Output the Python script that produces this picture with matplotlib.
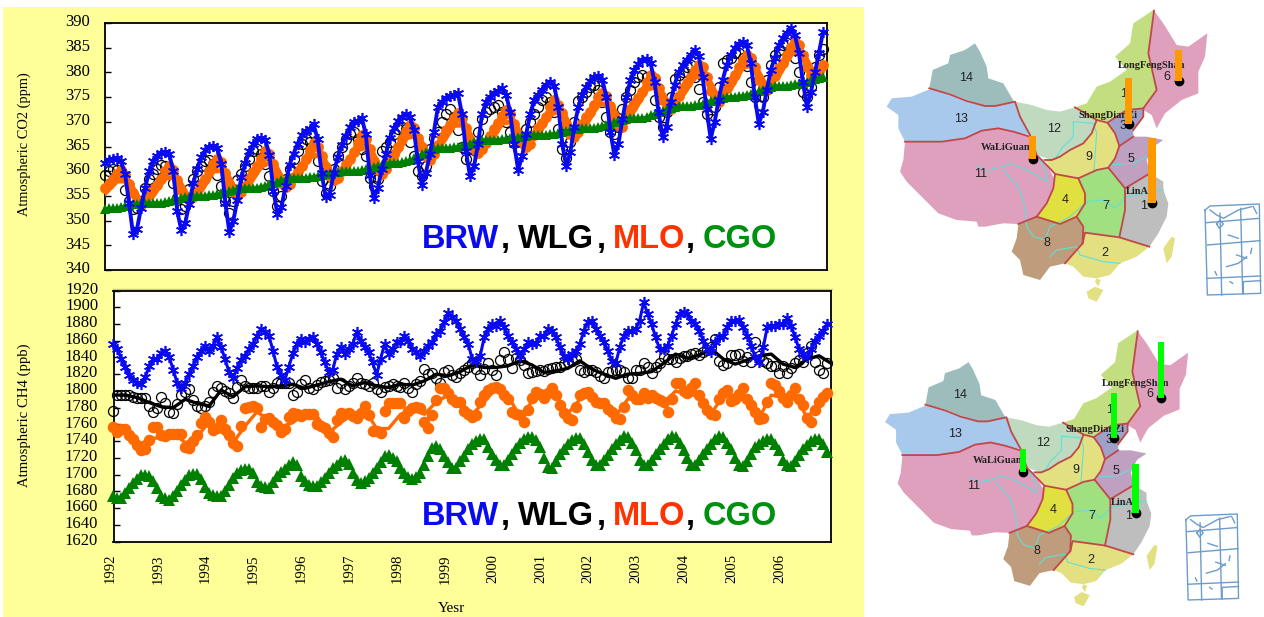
"""CO2 and CH4 time series for four stations next to two maps of China with site bars."""
import numpy as np
import matplotlib
matplotlib.use('Agg')
import matplotlib.pyplot as plt
from matplotlib.patches import Rectangle, Polygon
from matplotlib.transforms import ScaledTranslation

W, H = 1264, 617

years = list(range(1992, 2007))
co2_ticks = list(range(340, 395, 5))
ch4_ticks = list(range(1620, 1940, 20))
station_names = ['BRW', 'WLG', 'MLO', 'CGO']

co2_brw = [
    361.6, 362.3, 362.5, 362.6, 362.0, 359.5, 353.5, 347.2, 348.4, 352.6, 356.6, 360.0,
    362.1, 363.1, 363.7, 363.9, 363.5, 360.1, 352.0, 348.1, 349.5, 353.4, 357.6, 360.5,
    362.9, 364.2, 365.0, 365.2, 364.6, 361.5, 353.6, 347.7, 350.0, 354.2, 358.8, 361.6,
    364.0, 365.5, 366.5, 366.7, 366.3, 363.2, 356.0, 351.3, 352.7, 357.1, 361.3, 363.5,
    365.5, 367.3, 368.1, 368.6, 369.5, 366.5, 359.6, 354.8, 355.2, 359.6, 362.8, 365.3,
    367.2, 368.9, 370.0, 370.2, 370.8, 367.6, 359.2, 354.5, 356.5, 360.5, 363.4, 366.7,
    368.7, 370.2, 371.0, 371.6, 371.0, 368.4, 362.0, 357.3, 359.7, 363.4, 368.0, 373.0,
    374.0, 374.8, 375.2, 375.5, 375.8, 371.5, 364.0, 359.0, 361.0, 365.5, 371.5, 374.0,
    375.0, 375.8, 376.2, 376.8, 375.5, 372.0, 365.5, 360.3, 363.0, 367.5, 371.5, 374.5,
    375.5, 376.5, 377.5, 378.1, 377.3, 373.0, 365.5, 361.0, 363.8, 369.0, 373.0, 375.5,
    377.0, 378.3, 379.0, 379.3, 378.5, 375.0, 368.0, 363.2, 365.5, 370.5, 375.0, 378.5,
    380.5, 381.8, 382.6, 382.8, 382.0, 378.0, 372.0, 366.9, 369.0, 374.0, 377.5, 380.0,
    381.5, 382.6, 383.5, 384.5, 383.4, 379.0, 372.5, 366.5, 370.0, 374.5, 378.5, 381.5,
    383.5, 385.0, 385.8, 386.2, 385.5, 382.0, 375.0, 369.6, 372.0, 376.5, 380.5, 383.0,
    385.5, 387.0, 388.0, 388.9, 387.5, 384.0, 378.0, 373.0, 376.0, 380.0, 384.0, 388.2,
]
co2_wlg = [
    359.3, 360.0, 360.5, 360.3, 359.0, 356.2, 354.0, 352.4, 352.5, 354.0, 356.5, 358.5,
    359.5, 360.5, 361.3, 361.0, 359.5, 357.6, 354.5, 352.3, 353.0, 356.3, 358.5, 360.0,
    361.0, 362.0, 362.3, 361.5, 359.3, 357.0, 354.0, 351.5, 354.0, 358.3, 359.5, 361.0,
    362.5, 364.0, 364.5, 363.5, 361.5, 359.0, 356.0, 353.0, 355.0, 358.5, 360.5, 362.5,
    364.0, 365.5, 366.5, 366.0, 364.5, 362.0, 358.0, 355.5, 357.0, 360.5, 363.0, 365.0,
    366.5, 367.5, 368.0, 366.5, 364.5, 363.0, 358.7, 357.0, 358.5, 364.0, 365.0, 366.0,
    367.5, 368.5, 369.0, 368.5, 366.0, 363.0, 360.0, 359.0, 361.0, 364.5, 366.7, 368.0,
    370.0, 371.5, 372.5, 371.0, 368.4, 365.0, 362.4, 362.5, 365.0, 368.0, 370.5, 372.0,
    372.5, 373.0, 373.5, 372.0, 370.0, 368.0, 365.7, 364.5, 366.0, 368.5, 370.0, 371.5,
    373.0, 374.5, 375.0, 374.0, 372.0, 368.5, 364.5, 362.7, 366.0, 370.0, 374.3, 375.0,
    376.0, 377.0, 377.5, 376.5, 374.0, 371.0, 368.0, 367.5, 369.0, 372.5, 375.0, 376.5,
    378.0, 379.0, 379.5, 379.0, 377.9, 374.5, 371.0, 369.0, 372.0, 375.0, 378.7, 379.5,
    380.0, 381.0, 381.5, 379.0, 376.6, 374.0, 371.5, 370.5, 373.0, 377.0, 381.9, 382.5,
    383.0, 384.0, 384.0, 383.0, 381.2, 378.0, 375.0, 373.5, 375.0, 378.5, 381.5, 383.5,
    384.5, 385.5, 386.0, 385.0, 383.0, 380.0, 376.0, 375.0, 377.0, 381.0, 383.5, 384.7,
]
co2_mlo = [
    356.5, 357.5, 358.5, 359.5, 360.2, 359.3, 357.5, 355.5, 354.0, 353.2, 353.8, 355.2,
    356.4, 357.3, 358.5, 360.0, 361.0, 360.2, 358.3, 356.2, 354.7, 354.1, 354.8, 356.0,
    357.5, 358.5, 360.0, 361.5, 362.4, 361.8, 359.7, 357.5, 355.9, 355.0, 355.8, 357.0,
    358.7, 359.8, 361.0, 362.5, 364.0, 363.5, 361.5, 359.2, 357.6, 356.8, 357.5, 358.8,
    360.0, 361.0, 362.5, 364.3, 365.7, 365.0, 363.0, 360.8, 359.0, 358.2, 358.6, 360.0,
    361.5, 362.5, 363.8, 365.8, 367.4, 366.5, 364.5, 362.0, 360.3, 359.5, 360.5, 362.0,
    363.5, 364.8, 366.5, 368.2, 369.4, 368.8, 366.8, 364.8, 363.0, 362.3, 363.5, 365.3,
    367.0, 368.3, 369.3, 370.8, 371.7, 370.8, 368.8, 366.2, 364.4, 363.6, 364.5, 365.8,
    367.2, 368.5, 369.8, 371.2, 372.4, 371.5, 369.6, 367.2, 365.7, 364.9, 365.6, 367.4,
    368.8, 369.8, 371.0, 373.0, 374.4, 373.5, 371.8, 369.5, 367.5, 367.0, 368.0, 369.6,
    371.0, 372.0, 373.5, 375.0, 375.8, 375.3, 373.2, 371.0, 369.4, 369.0, 370.5, 372.5,
    373.8, 374.8, 376.0, 378.0, 379.5, 378.8, 376.8, 374.5, 372.8, 372.5, 373.8, 375.2,
    376.8, 377.8, 379.0, 380.5, 381.5, 381.0, 379.0, 376.2, 374.5, 374.0, 375.0, 376.8,
    378.2, 379.5, 381.0, 382.5, 383.5, 383.0, 381.0, 378.5, 377.0, 376.5, 377.5, 379.3,
    380.8, 382.0, 383.5, 385.2, 386.2, 385.5, 383.5, 381.0, 379.5, 379.0, 380.2, 381.5,
]
co2_cgo = [
    352.4, 352.5, 352.5, 352.6, 352.7, 352.9, 353.1, 353.3, 353.4, 353.5, 353.5, 353.6,
    353.6, 353.6, 353.6, 353.7, 353.9, 354.1, 354.3, 354.5, 354.7, 354.8, 354.9, 355.0,
    355.0, 355.0, 355.1, 355.2, 355.4, 355.6, 355.8, 356.0, 356.2, 356.3, 356.5, 356.6,
    356.6, 356.6, 356.7, 356.9, 357.1, 357.4, 357.6, 357.9, 358.2, 358.4, 358.6, 358.7,
    358.7, 358.7, 358.7, 358.8, 358.9, 359.1, 359.3, 359.5, 359.7, 359.8, 359.9, 360.0,
    360.0, 360.0, 360.0, 360.1, 360.2, 360.4, 360.6, 360.8, 361.1, 361.3, 361.5, 361.7,
    361.7, 361.7, 361.8, 362.0, 362.3, 362.6, 363.0, 363.4, 363.8, 364.1, 364.4, 364.6,
    364.7, 364.7, 364.7, 364.8, 365.0, 365.2, 365.4, 365.6, 365.9, 366.1, 366.3, 366.4,
    366.4, 366.4, 366.4, 366.5, 366.6, 366.7, 366.8, 366.9, 367.1, 367.2, 367.3, 367.4,
    367.4, 367.4, 367.4, 367.5, 367.6, 367.7, 367.9, 368.1, 368.3, 368.5, 368.6, 368.7,
    368.7, 368.7, 368.8, 368.9, 369.1, 369.3, 369.6, 369.9, 370.1, 370.3, 370.5, 370.7,
    370.7, 370.7, 370.8, 371.0, 371.3, 371.6, 371.9, 372.2, 372.5, 372.7, 372.9, 373.1,
    373.1, 373.1, 373.2, 373.3, 373.5, 373.7, 373.9, 374.2, 374.5, 374.7, 374.9, 375.1,
    375.1, 375.1, 375.2, 375.3, 375.5, 375.7, 375.9, 376.2, 376.5, 376.8, 377.0, 377.2,
    377.2, 377.2, 377.3, 377.4, 377.6, 377.7, 377.9, 378.1, 378.4, 378.7, 378.9, 379.1,
]
ch4_brw = [
    1856, 1850, 1838, 1829, 1819, 1813, 1809, 1808, 1817, 1830, 1838, 1838,
    1845, 1848, 1840, 1825, 1809, 1803, 1809, 1820, 1830, 1840, 1848, 1854,
    1848, 1854, 1864, 1852, 1838, 1822, 1815, 1827, 1837, 1842, 1850, 1856,
    1866, 1874, 1870, 1866, 1848, 1829, 1819, 1813, 1829, 1845, 1856, 1862,
    1858, 1862, 1865, 1856, 1846, 1834, 1823, 1825, 1844, 1852, 1844, 1850,
    1856, 1870, 1860, 1852, 1846, 1834, 1819, 1838, 1856, 1844, 1850, 1858,
    1858, 1866, 1860, 1850, 1846, 1842, 1848, 1854, 1858, 1868, 1872, 1882,
    1893, 1888, 1884, 1874, 1864, 1856, 1838, 1836, 1842, 1864, 1874, 1880,
    1878, 1884, 1876, 1866, 1858, 1850, 1842, 1850, 1858, 1856, 1857, 1866,
    1866, 1874, 1872, 1864, 1852, 1842, 1838, 1844, 1848, 1856, 1872, 1882,
    1884, 1874, 1866, 1858, 1848, 1836, 1833, 1852, 1866, 1872, 1871, 1874,
    1884, 1906, 1892, 1880, 1864, 1850, 1850, 1854, 1866, 1880, 1892, 1894,
    1892, 1884, 1880, 1872, 1860, 1850, 1846, 1858, 1864, 1866, 1876, 1884,
    1884, 1885, 1876, 1866, 1854, 1840, 1834, 1852, 1876, 1878, 1878, 1880,
    1880, 1887, 1878, 1864, 1850, 1844, 1840, 1850, 1860, 1866, 1872, 1880,
]
ch4_wlg = [
    1776, 1795, 1795, 1795, 1795, 1793, 1792, 1791, 1791, 1782, 1775, 1780,
    1793, 1786, 1775, 1773, 1784, 1795, 1799, 1802, 1789, 1782, 1780, 1782,
    1787, 1799, 1806, 1803, 1800, 1797, 1791, 1805, 1813, 1806, 1803, 1803,
    1803, 1806, 1806, 1799, 1804, 1810, 1809, 1810, 1810, 1795, 1799, 1808,
    1813, 1803, 1802, 1807, 1811, 1812, 1813, 1815, 1803, 1809, 1802, 1806,
    1810, 1815, 1810, 1808, 1806, 1809, 1802, 1799, 1805, 1806, 1808, 1806,
    1805, 1809, 1804, 1799, 1808, 1812, 1826, 1820, 1821, 1816, 1809, 1822,
    1825, 1819, 1817, 1821, 1825, 1828, 1833, 1826, 1819, 1826, 1833, 1825,
    1819, 1837, 1846, 1838, 1827, 1839, 1837, 1831, 1821, 1822, 1824, 1825,
    1824, 1826, 1827, 1829, 1829, 1832, 1834, 1836, 1838, 1825, 1823, 1825,
    1825, 1822, 1818, 1816, 1822, 1824, 1825, 1825, 1822, 1816, 1816, 1825,
    1825, 1833, 1829, 1821, 1828, 1833, 1840, 1838, 1838, 1835, 1839, 1842,
    1842, 1844, 1845, 1843, 1846, 1849, 1853, 1862, 1836, 1831, 1833, 1843,
    1843, 1844, 1836, 1840, 1835, 1858, 1842, 1836, 1833, 1830, 1830, 1821,
    1830, 1821, 1827, 1833, 1837, 1835, 1845, 1854, 1835, 1825, 1821, 1833,
]
ch4_mlo = [
    1757, 1751, 1754, 1755, 1747, 1743, 1735, 1729, 1731, 1741, 1757, 1757,
    1747, 1746, 1748, 1749, 1749, 1749, 1733, 1732, 1740, 1747, 1762, 1769,
    1763, 1753, 1756, 1765, 1755, 1747, 1738, 1734, 1758, 1779, 1781, 1782,
    1779, 1757, 1767, 1768, 1763, 1759, 1751, 1755, 1769, 1774, 1772, 1770,
    1772, 1772, 1772, 1760, 1758, 1756, 1750, 1745, 1765, 1774, 1772, 1774,
    1770, 1768, 1774, 1782, 1771, 1752, 1752, 1750, 1776, 1786, 1786, 1786,
    1786, 1768, 1776, 1780, 1781, 1780, 1763, 1756, 1771, 1789, 1803, 1803,
    1797, 1790, 1787, 1787, 1776, 1772, 1769, 1771, 1787, 1795, 1801, 1804,
    1805, 1802, 1795, 1790, 1775, 1772, 1771, 1763, 1777, 1792, 1799, 1796,
    1791, 1797, 1804, 1795, 1783, 1773, 1768, 1765, 1781, 1795, 1797, 1799,
    1793, 1787, 1786, 1785, 1778, 1775, 1768, 1767, 1781, 1801, 1795, 1790,
    1790, 1797, 1792, 1795, 1791, 1789, 1787, 1775, 1790, 1809, 1809, 1800,
    1797, 1803, 1809, 1795, 1785, 1777, 1772, 1771, 1790, 1797, 1801, 1788,
    1790, 1796, 1804, 1790, 1783, 1775, 1767, 1768, 1787, 1809, 1807, 1800,
    1792, 1787, 1795, 1803, 1790, 1783, 1768, 1763, 1777, 1787, 1793, 1798,
]
ch4_cgo = [
    1674, 1672, 1672, 1678, 1684, 1690, 1695, 1699, 1699, 1698, 1692, 1684,
    1674, 1672, 1670, 1674, 1680, 1688, 1694, 1699, 1701, 1701, 1695, 1685,
    1678, 1675, 1674, 1674, 1680, 1688, 1696, 1702, 1705, 1707, 1707, 1702,
    1691, 1686, 1685, 1684, 1691, 1698, 1703, 1707, 1711, 1715, 1712, 1698,
    1692, 1688, 1686, 1686, 1691, 1696, 1702, 1708, 1712, 1716, 1717, 1713,
    1702, 1694, 1690, 1692, 1696, 1702, 1708, 1715, 1722, 1723, 1720, 1716,
    1708, 1702, 1697, 1695, 1697, 1702, 1711, 1722, 1732, 1734, 1730, 1722,
    1715, 1708, 1708, 1716, 1722, 1730, 1736, 1740, 1742, 1743, 1733, 1725,
    1718, 1712, 1711, 1717, 1725, 1732, 1738, 1743, 1745, 1745, 1741, 1733,
    1720, 1709, 1708, 1716, 1725, 1731, 1737, 1741, 1744, 1744, 1736, 1727,
    1718, 1712, 1711, 1717, 1723, 1730, 1736, 1741, 1746, 1745, 1738, 1729,
    1718, 1712, 1711, 1717, 1724, 1731, 1737, 1742, 1746, 1745, 1738, 1729,
    1720, 1712, 1711, 1717, 1724, 1731, 1737, 1742, 1746, 1745, 1738, 1730,
    1720, 1712, 1710, 1716, 1724, 1733, 1737, 1740, 1743, 1743, 1737, 1729,
    1718, 1711, 1710, 1716, 1723, 1730, 1735, 1740, 1743, 1743, 1736, 1727,
]
# quarterly smoothed curves through the stations
co2_mlo_fit = [
    355.5, 358.0, 358.0, 353.8, 355.0, 358.6, 358.8, 354.6, 356.0, 360.0, 360.2, 355.6,
    357.3, 361.0, 362.0, 357.4, 358.6, 362.8, 363.5, 358.8, 360.0, 364.3, 365.0, 360.1,
    362.0, 366.7, 367.3, 362.9, 365.5, 369.3, 369.3, 364.2, 365.7, 369.7, 370.1, 365.5,
    367.3, 371.5, 372.3, 367.6, 369.5, 373.5, 373.7, 369.6, 372.3, 376.5, 377.3, 373.1,
    375.3, 379.0, 379.5, 374.6, 376.7, 381.0, 381.5, 377.1, 379.3, 383.7, 384.0, 379.6, 381.0,
]
ch4_wlg_fit = [
    1795, 1795, 1792, 1786, 1781, 1780, 1790, 1785, 1782, 1801, 1793, 1805,
    1806, 1805, 1806, 1808, 1803, 1807, 1811, 1814, 1806, 1810, 1806, 1804,
    1808, 1807, 1812, 1820, 1818, 1823, 1831, 1828, 1828, 1830, 1836, 1831,
    1822, 1824, 1827, 1836, 1826, 1820, 1815, 1820, 1821, 1823, 1833, 1844,
    1839, 1843, 1850, 1838, 1832, 1837, 1842, 1844, 1832, 1828, 1838, 1842, 1833,
]
ch4_mlo_fit = [
    1757, 1750, 1735, 1742, 1745, 1750, 1738, 1745, 1763, 1752, 1738, 1758,
    1775, 1765, 1757, 1762, 1773, 1770, 1750, 1762, 1772, 1778, 1755, 1755,
    1772, 1778, 1772, 1787, 1795, 1787, 1772, 1787, 1803, 1793, 1770, 1787,
    1795, 1795, 1773, 1790, 1795, 1785, 1770, 1790, 1793, 1792, 1785, 1800,
    1795, 1795, 1773, 1795, 1795, 1785, 1768, 1795, 1792, 1795, 1768, 1785, 1798,
]

site_names = ['LongFengShan', 'ShangDianZi', 'WaLiGuan', 'LinAn']
site_co2_bars = [93, 138, 71, 196]
site_ch4_bars = [178, 144, 72, 157]

# map outline in map units
map_regions = {
    '14': ('#9DBDBD', [(178, 265), (188, 210), (235, 190), (240, 165), (285, 150), (315, 130), (330, 155), (350, 200), (355, 235), (400, 250), (432, 305), (375, 318), (345, 318), (290, 300), (240, 280)]),
    '13': ('#A8C8EC', [(178, 268), (240, 283), (290, 303), (345, 318), (375, 318), (435, 305), (450, 350), (480, 405), (430, 395), (385, 385), (335, 392), (285, 415), (215, 425), (105, 425), (85, 385), (85, 345), (50, 320), (65, 295), (125, 290)]),
    '11': ('#DFA0BE', [(105, 425), (215, 425), (285, 415), (335, 392), (385, 385), (430, 395), (480, 410), (500, 465), (535, 500), (555, 540), (550, 565), (530, 610), (500, 650), (445, 672), (400, 670), (345, 680), (325, 680), (320, 665), (260, 660), (205, 640), (145, 580), (110, 545), (90, 515), (100, 480)]),
    '12': ('#BFDABF', [(435, 305), (485, 315), (530, 330), (570, 335), (615, 322), (680, 360), (665, 400), (640, 430), (600, 450), (570, 470), (545, 480), (500, 465), (480, 405), (450, 350)]),
    '10': ('#C3DE80', [(615, 322), (650, 310), (680, 260), (720, 245), (770, 210), (735, 170), (780, 130), (790, 70), (850, 30), (835, 160), (860, 270), (820, 325), (770, 330), (710, 365), (680, 360)]),
    '6': ('#DFA0BE', [(852, 32), (880, 70), (920, 135), (955, 140), (1012, 100), (1005, 170), (985, 215), (985, 280), (935, 300), (885, 340), (860, 385), (845, 345), (820, 330), (822, 325), (860, 270), (835, 160)]),
    '3': ('#A0A0C8', [(712, 368), (770, 330), (820, 325), (820, 350), (790, 390), (790, 410), (748, 438), (735, 400)]),
    '9': ('#E2E080', [(680, 360), (712, 368), (735, 400), (748, 438), (735, 475), (715, 500), (680, 510), (625, 535), (555, 522), (525, 480), (545, 480), (570, 470), (600, 450), (640, 430), (665, 400)]),
    '5': ('#BFA0C0', [(748, 438), (790, 410), (830, 410), (880, 420), (850, 440), (830, 480), (840, 520), (765, 565), (718, 505), (735, 475)]),
    '4': ('#E0E040', [(555, 522), (625, 535), (645, 580), (645, 610), (620, 650), (570, 670), (530, 670), (500, 650), (530, 610), (550, 565)]),
    '7': ('#A0E080', [(625, 535), (680, 510), (715, 503), (765, 565), (765, 630), (748, 710), (645, 698), (618, 650), (645, 610), (645, 580)]),
    '1': ('#BEBEBE', [(765, 565), (840, 520), (880, 545), (880, 570), (895, 610), (890, 650), (865, 700), (838, 740), (748, 712), (765, 630)]),
    '8': ('#BE9C7C', [(445, 672), (500, 650), (570, 672), (620, 650), (640, 680), (638, 730), (585, 790), (540, 800), (510, 840), (460, 825), (450, 780), (425, 755), (440, 715)]),
    '2': ('#E2E080', [(645, 698), (748, 712), (838, 740), (800, 770), (750, 790), (720, 825), (680, 835), (640, 830), (610, 800), (585, 790), (638, 730)]),
    'taiwan': ('#E2E080', [(905, 710), (915, 715), (905, 770), (890, 790), (880, 745)]),
    'hainan': ('#E2E080', [(675, 860), (700, 870), (680, 905), (655, 895), (650, 875)]),
    'lei': ('#E2E080', [(680, 835), (692, 840), (685, 860), (675, 845)]),
}
map_borders = [
    [(178, 265), (240, 283), (290, 303), (345, 318), (375, 318), (435, 305), (450, 350), (480, 405), (500, 465), (535, 500), (555, 522), (625, 535), (680, 510), (715, 503), (765, 565), (840, 520)],
    [(105, 425), (215, 425), (285, 415), (335, 392), (385, 385), (430, 395), (480, 410)],
    [(555, 522), (550, 565), (530, 610), (500, 650), (445, 672)],
    [(500, 650), (570, 672), (620, 650), (645, 610), (645, 580), (625, 535)],
    [(620, 650), (640, 680), (638, 730), (585, 790)],
    [(638, 730), (645, 698), (748, 712), (838, 740)],
    [(748, 712), (765, 630), (765, 565)],
    [(525, 480), (545, 480), (570, 470), (600, 450), (640, 430), (665, 400), (680, 360), (615, 322)],
    [(680, 360), (712, 368), (735, 400), (748, 438), (735, 475), (715, 503)],
    [(712, 368), (770, 330), (820, 325), (860, 270), (835, 160), (852, 32)],
    [(820, 325), (820, 350), (790, 390)],
    [(748, 438), (790, 410)],
]
map_rivers = [
    [(320, 498), (350, 510), (400, 500), (420, 490), (460, 505), (500, 525), (530, 545), (530, 520), (510, 480), (555, 478), (575, 445), (610, 410), (610, 365), (670, 370), (680, 400), (672, 510)],
    [(720, 495), (790, 490), (830, 470)],
    [(400, 510), (445, 560), (465, 620), (470, 680), (490, 710), (525, 720), (540, 680), (600, 650), (650, 605), (700, 600), (735, 625), (770, 590), (880, 570)],
    [(540, 770), (560, 750), (620, 740), (630, 765), (700, 785), (750, 790)],
]
inset_lines = [
    [(1005, 630), (1020, 618), (1168, 612), (1172, 880), (1012, 885), (1005, 630)],
    [(1010, 668), (1168, 655)], [(1012, 735), (1170, 722)], [(1012, 835), (1172, 828)],
    [(1050, 640), (1055, 885)], [(1112, 625), (1118, 880)], [(1120, 882), (1120, 845), (1172, 842)],
    [(1020, 630), (1040, 645), (1060, 655), (1105, 630), (1145, 620)], [(1040, 672), (1050, 660), (1060, 672), (1048, 685), (1040, 672)],
    [(1070, 800), (1105, 790), (1130, 770)], [(1075, 705), (1105, 715)], [(1100, 765), (1130, 775)],
    [(1150, 620), (1160, 640)], [(1145, 745), (1142, 760)], [(1035, 815), (1040, 825)], [(1080, 845), (1088, 850)],
]
map_numbers = [('14', 288, 233), ('13', 272, 358), ('12', 552, 388), ('11', 332, 523), ('9', 656, 472),
               ('5', 782, 476), ('4', 585, 600), ('7', 707, 617), ('1', 822, 617), ('8', 532, 730),
               ('2', 703, 758), ('3', 760, 378), ('6', 892, 232), ('1', 762, 282)]
site_x = [926, 776, 488, 845]
site_y = [243, 372, 478, 610]
site_width = [20, 20, 20, 24]
label_pos = [(845, 198), (715, 345), (408, 443), (812, 575)]

# legend word positions in figure pixels
legend_x = [422, 518, 613, 703]
comma_x = [501, 597, 686]
legend_colors = ['#0A0AF0', 'black', '#FF3300', '#009010']


def px_axes(fig, left, top, right, bottom, **kw):
    return fig.add_axes([left / W, 1 - bottom / H, (right - left) / W, (bottom - top) / H], **kw)


def draw_series(ax, months, brw, wlg, mlo, cgo, wlg_fit=None, mlo_fit=None):
    quarters = 1992 + np.arange(61) / 4
    is_ch4 = wlg_fit is not None
    ax.plot(months, wlg, ls='none', marker='o', ms=7.2, mfc='none', mec='black', mew=0.9, clip_on=False, zorder=2)
    if is_ch4:
        ax.plot(quarters, wlg_fit, color='black', lw=2.4, zorder=2.5)
        ax.plot(months, mlo, ls='none', color='#FF6A00', marker='o', ms=7.3, clip_on=False, zorder=3)
        ax.plot(quarters, mlo_fit, color='#FF6A00', lw=2.4, zorder=3)
        ax.plot(months, cgo, ls='none', color='#008000', marker='^', ms=8, mew=0, clip_on=False, zorder=4)
        ax.plot(months, brw, color='#0A0AF0', lw=2.2, marker=(6, 2, 0), ms=8, mew=1.2, clip_on=False, zorder=5)
    else:
        ax.plot(months, mlo, color='#FF6A00', lw=4, marker='o', ms=6.8, clip_on=False, zorder=3)
        ax.plot(quarters, mlo_fit, color='#FF6A00', lw=3.5, zorder=3)
        ax.plot(months, cgo, color='#008000', lw=2, marker='^', ms=7, mew=0, clip_on=False, zorder=4)
        ax.plot(months, brw, color='#0A0AF0', lw=2.8, marker=(6, 2, 0), ms=8, mew=1.2, clip_on=False, zorder=5)


def style_axes(ax, ticks, lower, upper):
    ax.set_xlim(1992, 2007)
    ax.set_ylim(lower, upper)
    ax.set_yticks(ticks)
    ax.tick_params(axis='y', direction='in', length=4, width=1, pad=11, labelsize=12)
    for lab in ax.get_yticklabels():
        lab.set_fontfamily(['Liberation Serif'])
        lab.set_transform(lab.get_transform() + ScaledTranslation(0, 2 / 72, fig.dpi_scale_trans))
    for spine in ax.spines.values():
        spine.set_linewidth(1.3)


def station_legend(fig, y):
    for name, col, x in zip(station_names, legend_colors, legend_x):
        fig.text(x / W, 1 - y / H, name, color=col, fontsize=23.5, fontweight='bold',
                 family=['Liberation Sans'], va='baseline', ha='left', zorder=20)
    for x in comma_x:
        fig.text(x / W, 1 - y / H, ',', color='black', fontsize=23.5, fontweight='bold',
                 family=['Liberation Sans'], va='baseline', ha='left', zorder=20)


def draw_map(ax, bars, bar_color):
    for key, (col, pts) in map_regions.items():
        ax.add_patch(Polygon(pts, closed=True, fc=col, ec='none', zorder=1))
    for line in map_rivers:
        xs, ys = zip(*line)
        ax.plot(xs, ys, color='#60E0D8', lw=0.8, zorder=2)
    for line in map_borders:
        xs, ys = zip(*line)
        ax.plot(xs, ys, color='#C04848', lw=1.3, zorder=3)
    for line in inset_lines:
        xs, ys = zip(*line)
        ax.plot(xs, ys, color='#6C9CCC', lw=1, zorder=2)
    for txt, x, y in map_numbers:
        ax.text(x, y, txt, fontsize=9, ha='center', va='center', color='#222222',
                family=['Liberation Sans'], zorder=4)
    for name, (x, y) in zip(site_names, label_pos):
        ax.text(x, y, name, fontsize=7.5, fontweight='bold', ha='center', va='center', color='#222222',
                family=['Liberation Serif'], zorder=4)
    ax.scatter(site_x, site_y, s=36, color='black', zorder=5)
    ax.bar(site_x, [-b for b in bars], width=site_width, bottom=site_y, color=bar_color, zorder=6)
    ax.axis('off')


fig = plt.figure(figsize=(W / 100, H / 100), dpi=100, facecolor='white')

bg = px_axes(fig, 0, 0, W, H)
bg.set_xlim(0, W)
bg.set_ylim(H, 0)
bg.axis('off')
bg.add_patch(Rectangle((3, 7), 861, 610, fc='#FFFF99', ec='none'))
bg.plot([113, 832], [289, 289], color='#C8C880', lw=1)

months = 1992 + np.arange(180) / 12

ax_co2 = px_axes(fig, 105, 23, 827, 270)
draw_series(ax_co2, months, co2_brw, co2_wlg, co2_mlo, co2_cgo, mlo_fit=co2_mlo_fit)
style_axes(ax_co2, co2_ticks, 340, 390)
ax_co2.set_xticks([])

ax_ch4 = px_axes(fig, 113.5, 290.5, 831, 541.5)
draw_series(ax_ch4, months, ch4_brw, ch4_wlg, ch4_mlo, ch4_cgo, ch4_wlg_fit, ch4_mlo_fit)
style_axes(ax_ch4, ch4_ticks, 1620, 1920)
ax_ch4.set_xticks(years)
ax_ch4.set_xticklabels(years, rotation=90, fontsize=10.5, family=['Liberation Serif'])
ax_ch4.tick_params(axis='x', length=0, pad=9)
for lab in ax_ch4.get_xticklabels():
    lab.set_transform(lab.get_transform() + ScaledTranslation(-2.5 / 72, 0, fig.dpi_scale_trans))

fig.text(24 / W, 1 - 144 / H, 'Atmospheric CO2 (ppm)', rotation=90, fontsize=10.4, ha='center', va='center',
         family=['Liberation Serif'])
fig.text(24 / W, 1 - 415 / H, 'Atmospheric CH4 (ppb)', rotation=90, fontsize=10.6, ha='center', va='center',
         family=['Liberation Serif'])
fig.text(451 / W, 1 - 612 / H, 'Yesr', fontsize=11, ha='center', va='baseline', family=['Liberation Serif'])

station_legend(fig, 248)
station_legend(fig, 525)

map_top = px_axes(fig, 870, 0, 1264, 305)
map_top.set_xlim(0, 1182)
map_top.set_ylim(915, 0)
draw_map(map_top, site_co2_bars, '#FF9900')

map_low = px_axes(fig, 869.33, 321.2, 1264, 617)
map_low.set_xlim(0, 1252.9)
map_low.set_ylim(939, 0)
draw_map(map_low, site_ch4_bars, '#00FF00')

fig.savefig('out.png', dpi=100)
